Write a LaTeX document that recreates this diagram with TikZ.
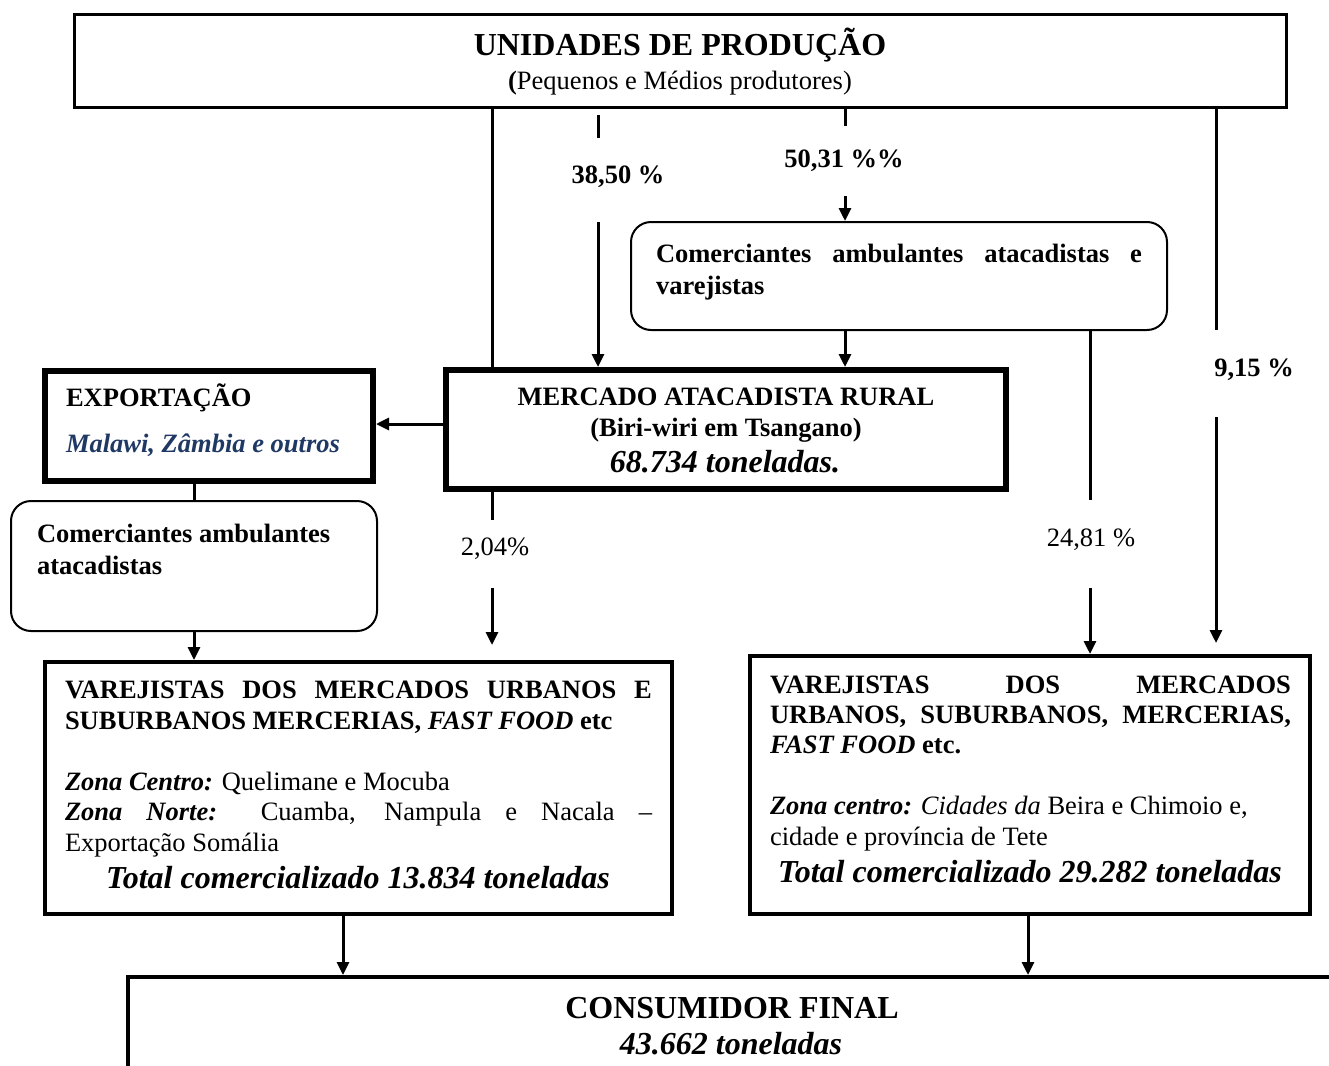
\documentclass[tikz,border=0pt]{standalone}
\usepackage{fontspec}
\setmainfont{Liberation Serif}
\usetikzlibrary{arrows.meta}
\definecolor{navy}{HTML}{1F3864}
\begin{document}
\begin{tikzpicture}[x=1pt,y=-1pt,
  txt/.style={inner sep=0pt, outer sep=0pt, font=\fontsize{26.5}{30.5}\selectfont},
  big/.style={inner sep=0pt, outer sep=0pt, font=\fontsize{32}{36}\selectfont\bfseries},
  sqbox/.style={draw, inner sep=0pt},
  rbox/.style={draw, inner sep=0pt, line width=2pt, rounded corners=20pt},
  conn/.style={line width=3pt},
  arr/.style={line width=3pt, -{Triangle[length=13pt,width=12pt]}},
]
\useasboundingbox (0,0) rectangle (1329,1065);
\clip (0,0) rectangle (1329,1065);
\fill[white] (0,0) rectangle (1329,1065);

% boxes
\node[sqbox, line width=3pt, minimum width=1212pt, minimum height=92pt] (prod) at (680,61) {};
\node[rbox, minimum width=536pt, minimum height=108pt] (comA) at (899,276) {};
\node[sqbox, line width=6pt, minimum width=560pt, minimum height=119pt] (merc) at (726,429.5) {};
\node[sqbox, line width=6pt, minimum width=328pt, minimum height=110pt] (exp) at (209,426) {};
\node[rbox, minimum width=366pt, minimum height=130pt] (comB) at (194,566) {};
\node[sqbox, line width=4pt, minimum width=627pt, minimum height=252pt] (varL) at (358.5,788) {};
\node[sqbox, line width=4pt, minimum width=560pt, minimum height=258pt] (varR) at (1030,785) {};
\node[sqbox, line width=4pt, minimum width=1400pt, minimum height=200pt, anchor=north west] (cons) at (126,975) {};

% texts: production
\node[big, anchor=base] (t1) at (680,56) {UNIDADES DE PRODUÇÃO};
\node[txt, anchor=base] (t2) at (680,89) {\textbf{(}Pequenos e Médios produtores)};
% comerciantes A
\node[txt, anchor=base west, font=\fontsize{26.5}{30.5}\selectfont\bfseries] (t3) at (656,262) {\makebox[486pt][s]{Comerciantes ambulantes atacadistas e}};
\node[txt, anchor=base west, font=\fontsize{26.5}{30.5}\selectfont\bfseries] (t4) at (656,294) {varejistas};
% mercado
\node[txt, anchor=base, font=\fontsize{26.5}{30.5}\selectfont\bfseries] (t5) at (726,405) {MERCADO ATACADISTA RURAL};
\node[txt, anchor=base, font=\fontsize{26.5}{30.5}\selectfont\bfseries] (t6) at (726,436) {(Biri-wiri em Tsangano)};
\node[big, anchor=base, font=\fontsize{32}{36}\selectfont\bfseries\itshape] (t7) at (725,472) {68.734 toneladas.};
% exportacao
\node[txt, anchor=base west, font=\fontsize{26.5}{30.5}\selectfont\bfseries] (t8) at (66,406) {EXPORTAÇÃO};
\node[txt, anchor=base west, text=navy, font=\fontsize{26.5}{30.5}\selectfont\bfseries\itshape] (t9) at (66,452) {Malawi, Zâmbia e outros};
% comerciantes B
\node[txt, anchor=base west, font=\fontsize{26.5}{30.5}\selectfont\bfseries] (t10) at (37,542) {Comerciantes ambulantes};
\node[txt, anchor=base west, font=\fontsize{26.5}{30.5}\selectfont\bfseries] (t11) at (37,574) {atacadistas};
% varejistas left
\node[txt, anchor=base west, font=\fontsize{26.5}{30.5}\selectfont\bfseries] (t12) at (65,698) {\makebox[587pt][s]{VAREJISTAS DOS MERCADOS URBANOS E}};
\node[txt, anchor=base west, font=\fontsize{26.5}{30.5}\selectfont\bfseries] (t13) at (65,729) {SUBURBANOS MERCERIAS, \textit{FAST FOOD} etc};
\node[txt, anchor=base west] (t14) at (65,790) {\textbf{\textit{Zona Centro:}} Quelimane e Mocuba};
\node[txt, anchor=base west] (t15) at (65,820) {\makebox[587pt][s]{\textbf{\textit{Zona Norte:}} Cuamba, Nampula e Nacala –}};
\node[txt, anchor=base west] (t16) at (65,851) {Exportação Somália};
\node[big, anchor=base, font=\fontsize{32}{36}\selectfont\bfseries\itshape] (t17) at (358,888) {Total comercializado 13.834 toneladas};
% varejistas right
\node[txt, anchor=base west, font=\fontsize{26.5}{30.5}\selectfont\bfseries] (t18) at (770,693) {\makebox[521pt][s]{VAREJISTAS DOS MERCADOS}};
\node[txt, anchor=base west, font=\fontsize{26.5}{30.5}\selectfont\bfseries] (t19) at (770,723) {\makebox[521pt][s]{URBANOS, SUBURBANOS, MERCERIAS,}};
\node[txt, anchor=base west, font=\fontsize{26.5}{30.5}\selectfont\bfseries] (t20) at (770,753) {\textit{FAST FOOD} etc.};
\node[txt, anchor=base west] (t21) at (770,814) {\textbf{\textit{Zona centro:}} \textit{Cidades da} Beira e Chimoio e,};
\node[txt, anchor=base west] (t22) at (770,845) {cidade e província de Tete};
\node[big, anchor=base, font=\fontsize{32}{36}\selectfont\bfseries\itshape] (t23) at (1030,882) {Total comercializado 29.282 toneladas};
% consumidor
\node[big, anchor=base] (t24) at (732,1018) {CONSUMIDOR FINAL};
\node[big, anchor=base, font=\fontsize{32}{36}\selectfont\bfseries\itshape] (t25) at (731,1054) {43.662 toneladas};

% percentage labels
\node[txt, anchor=base, font=\fontsize{26.5}{30.5}\selectfont\bfseries] (p1) at (618,183) {38,50 \%};
\node[txt, anchor=base, font=\fontsize{26.5}{30.5}\selectfont\bfseries] (p2) at (844,167) {50,31 \%\%};
\node[txt, anchor=base, font=\fontsize{26.5}{30.5}\selectfont\bfseries] (p3) at (1254,376) {9,15 \%};
\node[txt, anchor=base] (p4) at (495,555) {2,04\%};
\node[txt, anchor=base] (p5) at (1091,546) {24,81 \%};

% free ends
\coordinate (a1s) at (598,115);
\coordinate (a1e) at (598,138);
\coordinate (a2) at (598,222);
\coordinate (b1) at (845,126);
\coordinate (b2) at (845,196);
\coordinate (c1) at (1090,500);
\coordinate (c2) at (1090,588);
\coordinate (d1) at (1216,330);
\coordinate (d2) at (1216,417);
\coordinate (d3) at (1216,643);
\coordinate (e1) at (492,520);
\coordinate (e2) at (492,588);
\coordinate (e3) at (492,645);

% connectors
\draw[conn] (492,0 |- prod.south) -- (492,0 |- merc.north);
\draw[conn] (a1s) -- (a1e);
\draw[arr] (a2) -- (598,0 |- merc.north);
\draw[conn] (845,0 |- prod.south) -- (b1);
\draw[arr] (b2) -- (845,0 |- comA.north);
\draw[arr] (845,0 |- comA.south) -- (845,0 |- merc.north);
\draw[conn] (1090,0 |- comA.south) -- (c1);
\draw[arr] (c2) -- (1090,0 |- varR.north);
\draw[conn] (1216,0 |- prod.south) -- (d1);
\draw[arr] (d2) -- (d3);
\draw[arr] (merc.west |- 0,424) -- (exp.east |- 0,424);
\draw[conn] (194,0 |- exp.south) -- (194,0 |- comB.north);
\draw[arr] (194,0 |- comB.south) -- (194,0 |- varL.north);
\draw[conn] (492,0 |- merc.south) -- (e1);
\draw[arr] (e2) -- (e3);
\draw[arr] (343,0 |- varL.south) -- (343,0 |- cons.north);
\draw[arr] (1028,0 |- varR.south) -- (1028,0 |- cons.north);
\end{tikzpicture}
\end{document}
